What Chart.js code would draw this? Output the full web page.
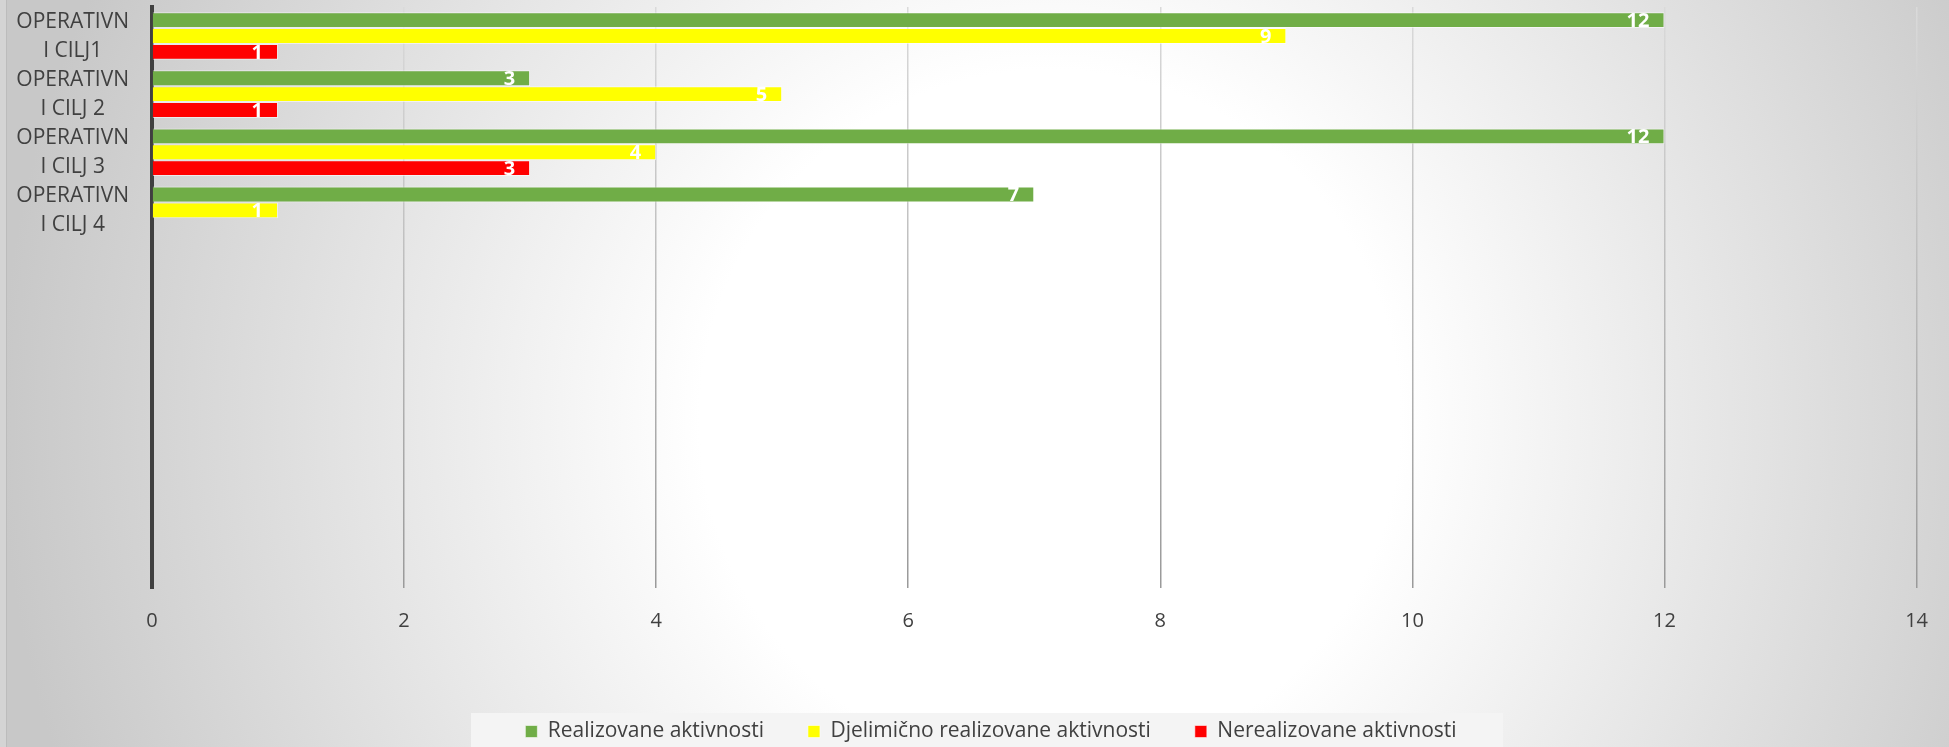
<!DOCTYPE html>
<html>
<head>
<meta charset="utf-8">
<script src="https://cdn.jsdelivr.net/npm/chart.js@4.4.1/dist/chart.umd.min.js"></script>
<style>
  html, body { margin: 0; padding: 0; background: #d0d0d0; overflow: hidden; }
  canvas { display: block; }
</style>
</head>
<body>
<canvas id="chart" width="1949" height="747"></canvas>
<script>
// categories (excel range had empty rows below the 4 goals)
const categories = [
  ["OPERATIVN", "I CILJ1"],
  ["OPERATIVN", "I CILJ 2"],
  ["OPERATIVN", "I CILJ 3"],
  ["OPERATIVN", "I CILJ 4"],
  "", "", "", "", "", ""
];
const seriesNames = ["Realizovane aktivnosti", "Djelimično realizovane aktivnosti", "Nerealizovane aktivnosti"];
const realizovane = [12, 3, 12, 7];
const djelimicno = [9, 5, 4, 1];
const nerealizovane = [1, 1, 3, null];
const xTicks = [0, 2, 4, 6, 8, 10, 12, 14];

const canvas = document.getElementById("chart");
const gridGrad = canvas.getContext("2d").createLinearGradient(0, 7, 0, 585);
gridGrad.addColorStop(0, "#dadada");
gridGrad.addColorStop(1, "#9a9a9a");

const backgroundPlugin = {
  id: "background",
  afterLayout(chart) {
    // legend sits a bit right of the canvas centre in the original
    chart.legend.left = 64;
  },
  beforeDraw(chart) {
    const ctx = chart.ctx;
    const w = chart.width, h = chart.height;
    ctx.save();
    const g = ctx.createRadialGradient(1050, 420, 350, 1050, 420, 1050);
    g.addColorStop(0, "#ffffff");
    g.addColorStop(1, "#c8c8c8");
    ctx.fillStyle = g;
    ctx.fillRect(0, 0, w, h);
    ctx.fillStyle = "#d4d4d4";
    ctx.fillRect(0, 0, 6, h);
    ctx.fillStyle = "#bcbcbc";
    ctx.fillRect(6, 0, 1, h);
    // light panel behind the legend
    const lg = chart.legend;
    const cx = (lg.left + lg.right) / 2;
    ctx.fillStyle = "#f4f4f4";
    ctx.fillRect(cx - 520, lg.top + 36, 1032, h - lg.top - 36);
    ctx.restore();
  }
};

const valueLabels = {
  id: "valueLabels",
  afterDatasetsDraw(chart) {
    const ctx = chart.ctx;
    ctx.save();
    ctx.font = "bold 20px 'Open Sans'";
    ctx.fillStyle = "#ffffff";
    ctx.textAlign = "right";
    ctx.textBaseline = "middle";
    chart.data.datasets.forEach((ds, i) => {
      chart.getDatasetMeta(i).data.forEach((bar, j) => {
        const v = ds.data[j];
        if (v === null || v === undefined) return;
        ctx.fillText(v, bar.x - 15, bar.y + 1);
      });
    });
    ctx.restore();
  }
};

new Chart(canvas, {
  type: "bar",
  data: {
    labels: categories,
    datasets: [
      { label: seriesNames[0], data: realizovane, backgroundColor: "#70ad47" },
      { label: seriesNames[1], data: djelimicno, backgroundColor: "#ffff00" },
      { label: seriesNames[2], data: nerealizovane, backgroundColor: "#ff0000" }
    ].map((d) => ({
      ...d,
      borderColor: "rgba(255,255,255,0.55)",
      borderWidth: 1,
      categoryPercentage: 0.82,
      barPercentage: 1
    }))
  },
  options: {
    indexAxis: "y",
    responsive: false,
    devicePixelRatio: 1,
    animation: false,
    layout: { padding: { left: 0, right: 31, top: 7, bottom: -5 } },
    plugins: {
      tooltip: { enabled: false },
      legend: {
        position: "bottom",
        labels: {
          boxWidth: 12,
          boxHeight: 12,
          padding: 44,
          color: "#404040",
          font: { family: "'Open Sans'", size: 21 }
        }
      }
    },
    scales: {
      x: {
        min: xTicks[0],
        max: xTicks[xTicks.length - 1],
        ticks: {
          stepSize: xTicks[1] - xTicks[0],
          color: "#404040",
          padding: 21,
          font: { family: "'Open Sans'", size: 20 }
        },
        grid: {
          drawTicks: false,
          lineWidth: 1.5,
          color: (c) => (c.tick && c.tick.value === 0 ? "rgba(0,0,0,0)" : gridGrad)
        },
        border: { display: false },
        afterFit: (scale) => { scale.height = 89; }
      },
      y: {
        ticks: {
          color: "#404040",
          crossAlign: "center",
          padding: 23,
          autoSkip: false,
          font: { family: "'Open Sans'", size: 21, lineHeight: 1.38 }
        },
        grid: { display: false, drawTicks: false },
        border: { display: true, color: "#404040", width: 4 },
        afterFit: (scale) => {
          scale.width = 152;
          scale.paddingTop = 0;
          scale.paddingBottom = 0;
        }
      }
    }
  },
  plugins: [backgroundPlugin, valueLabels]
});
</script>
</body>
</html>
